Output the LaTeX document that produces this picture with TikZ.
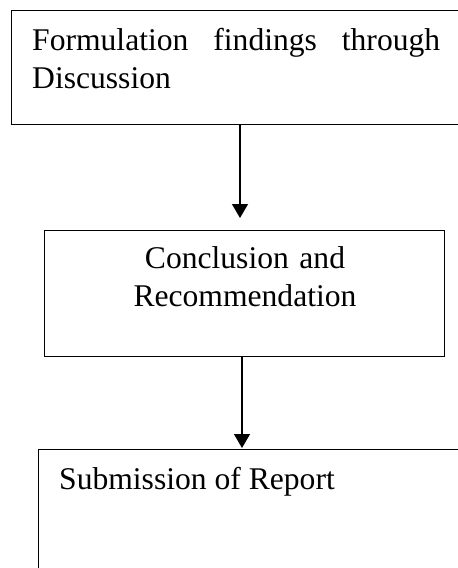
\documentclass[tikz,border=0pt]{standalone}
\usepackage{fontspec}
\setmainfont{Liberation Serif}
\usetikzlibrary{arrows.meta}
\begin{document}
\begin{tikzpicture}[x=1pt,y=1pt,
  box/.style={draw=black, line width=1.3pt, rectangle, inner sep=0pt, anchor=north west},
  txt/.style={inner sep=0pt, font=\fontsize{31.6}{38}\selectfont},
  flow/.style={line width=1.2pt, -{Triangle[length=14pt,width=16pt]}}]
\useasboundingbox (0,0) rectangle (458,-568);
\clip (0,0) rectangle (458,-568);
% boxes
\node[box, minimum width=470pt, minimum height=114pt] (b1) at (11,-10) {};
\node[box, minimum width=400pt, minimum height=126pt] (b2) at (44,-230) {};
\node[box, minimum width=440pt, minimum height=140pt] (b3) at (38,-449) {};
% texts
\node[txt, anchor=north west, text width=408pt, align=justify] (t1) at (32,-28.5)
  {Formulation findings through Discussion};
\node[txt, anchor=north, text width=300pt, align=center] (t2) at (245,-246.5)
  {Conclusion and\\Recommendation};
\node[txt, anchor=north west] (t3) at (59,-467.5) {Submission of Report};
% connectors
\coordinate (a1s) at (240,-124);
\coordinate (a1e) at (240,-218);
\coordinate (a2s) at (242,-356);
\coordinate (a2e) at (242,-448);
\draw[flow] (a1s) -- (a1e);
\draw[flow] (a2s) -- (a2e);
\end{tikzpicture}
\end{document}
